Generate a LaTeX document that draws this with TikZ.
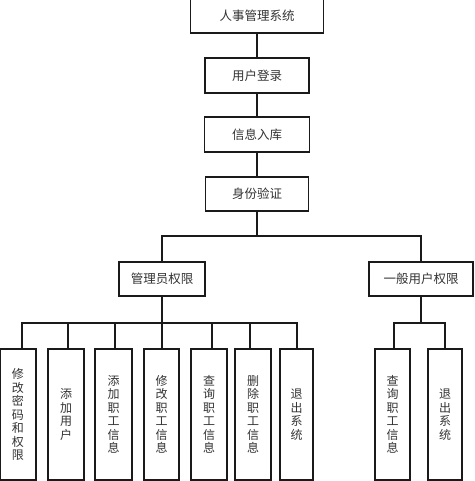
\documentclass[tikz,border=0pt]{standalone}
\usepackage{fontspec}
\newfontfamily\cjk{Noto Sans CJK SC}
\definecolor{linec}{HTML}{1A1A1A}
\definecolor{textc}{HTML}{333333}
\begin{document}
\begin{tikzpicture}[x=1pt,y=-1pt,
  box/.style={draw=linec, line width=1.1pt, inner sep=0pt, text=textc,
    font=\cjk\fontsize{12.5}{14}\selectfont},
  leaf/.style={box, minimum height=131pt, align=center,
    font=\cjk\fontsize{12}{13.5}\selectfont},
  conn/.style={draw=linec, line width=1.1pt},
  boldconn/.style={draw=linec, line width=1.7pt}]
\useasboundingbox (0,0) rectangle (474,481);
\fill[white] (0,0) rectangle (474,481);
% main chain
\node[box, minimum width=133pt, minimum height=34pt] (sys) at (257,16) {人事管理系统};
\node[box, minimum width=104pt, minimum height=35pt] (login) at (257,75.5) {用户登录};
\node[box, minimum width=105pt, minimum height=35pt] (info) at (257,134.5) {信息入库};
\node[box, minimum width=103pt, minimum height=34pt] (auth) at (257,194) {身份验证};
\node[box, minimum width=86pt, minimum height=34pt] (admin) at (162,279) {管理员权限};
\node[box, minimum width=104pt, minimum height=34pt] (user) at (421,279) {一般用户权限};
% leaves
\node[leaf, minimum width=36pt] (l1) at (18,414.5) {修\\改\\密\\码\\和\\权\\限};
\node[leaf, minimum width=36pt] (l2) at (66,414.5) {添\\加\\用\\户};
\node[leaf, minimum width=37pt] (l3) at (113.5,414.5) {添\\加\\职\\工\\信\\息};
\node[leaf, minimum width=35pt] (l4) at (161.5,414.5) {修\\改\\职\\工\\信\\息};
\node[leaf, minimum width=36pt] (l5) at (209,414.5) {查\\询\\职\\工\\信\\息};
\node[leaf, minimum width=36pt] (l6) at (253,414.5) {删\\除\\职\\工\\信\\息};
\node[leaf, minimum width=33pt] (l7) at (296.5,414.5) {退\\出\\系\\统};
\node[leaf, minimum width=35pt] (l8) at (392.5,414.5) {查\\询\\职\\工\\信\\息};
\node[leaf, minimum width=34pt] (l9) at (445,414.5) {退\\出\\系\\统};
% connectors
\draw[conn] (sys) -- (login);
\draw[conn] (login) -- (info);
\draw[conn] (info) -- (auth);
\coordinate (b) at (257,236);
\draw[conn] (auth) -- (b);
\draw[conn] (admin.north) |- (b) -| (user.north);
\coordinate (ab) at (162,323);
\draw[conn] (admin) -- (ab);
\draw[conn] (ab) -| ([xshift=4pt]l1.north);
\draw[conn] (ab) -| ([xshift=2pt]l2.north);
\draw[conn] (ab) -| ([xshift=1.5pt]l3.north);
\draw[conn] (ab) -| ([xshift=0.5pt]l4.north);
\draw[conn] (ab) -| ([xshift=3pt]l5.north);
\draw[conn] (ab) -| ([xshift=-3pt]l6.north);
\draw[conn] (ab) -| ([xshift=0.5pt]l7.north);
\coordinate (ub) at (421,323);
\draw[conn] (user) -- (ub);
\draw[boldconn] (ub) -| ([xshift=1.5pt]l8.north);
\draw[boldconn] (ub) -| (l9.north);
\end{tikzpicture}
\end{document}
